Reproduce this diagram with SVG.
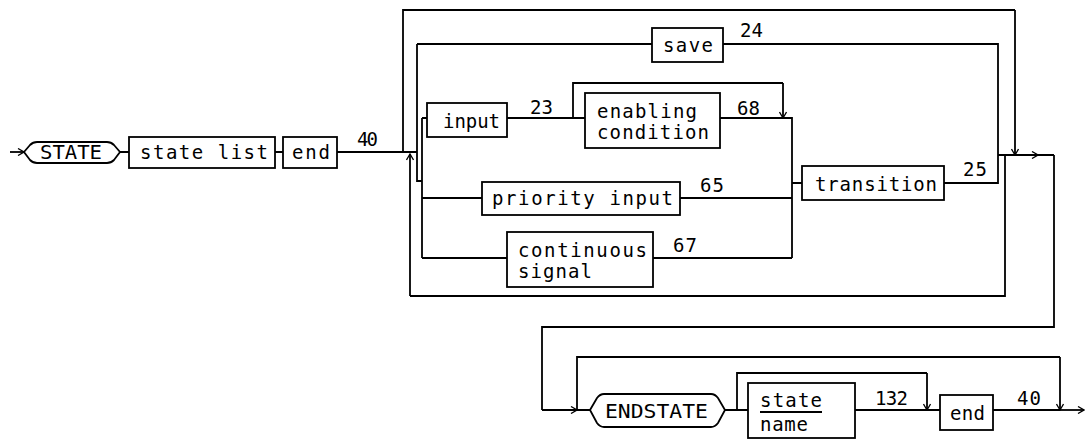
<svg xmlns="http://www.w3.org/2000/svg" width="1087" height="442" viewBox="0 0 1087 442">
<defs>
<marker id="ah" viewBox="0 0 8 8" refX="7" refY="4" markerWidth="8" markerHeight="8" markerUnits="userSpaceOnUse" orient="auto">
<path d="M1,0.5 L7,4 L1,7.5" fill="none" stroke="#000" stroke-width="1.3"/>
</marker>
<style>
.b{fill:#fff;stroke:#000;stroke-width:1.8}
.l{fill:none;stroke:#000;stroke-width:1.8}
.a{fill:none;stroke:#000;stroke-width:1.8;marker-end:url(#ah)}
text{font-family:"DejaVu Sans Mono","Liberation Mono",monospace;font-size:19px;fill:#000}
.n{font-size:19px}
</style>
</defs>
<rect width="1087" height="442" fill="#fff"/>
<g id="connectors">
<path class="a" d="M10,152 H24"/>
<path class="l" d="M120,152 H129 M275,152 H283 M337,152 H417"/>
<path class="l" d="M403,152 V10 H1015"/>
<path class="a" d="M1015,10 V155"/>
<path class="l" d="M417,44 V181 H422 M417,44 H652 M723,44 H998 V183 H944"/>
<path class="l" d="M998,155 H1054"/>
<path class="a" d="M998,155 H1038"/>
<path class="l" d="M1005,155 V296 H410"/>
<path class="a" d="M410,296 V154"/>
<path class="l" d="M422,118 V258 M422,118 H427 M507,118 H585 M720,118 H792 V258 M792,183 H802"/>
<path class="l" d="M573,118 V83 H783"/>
<path class="a" d="M783,83 V118"/>
<path class="l" d="M422,198 H482 M680,198 H792 M422,258 H507 M653,258 H792"/>
<path class="l" d="M1054,155 V327 H542 V410"/>
<path class="a" d="M542,410 H577"/>
<path class="l" d="M577,410 H590 M725,410 H748 M855,410 H940 M993,410 H1060"/>
<path class="a" d="M1060,410 H1084"/>
<path class="l" d="M577,410 V357 H1060"/>
<path class="a" d="M1060,357 V410"/>
<path class="l" d="M737,410 V373 H927"/>
<path class="a" d="M927,373 V410"/>
</g>
<g id="state"><path class="b" d="M24,152 L30,145 Q33,142 37,142 L107,142 Q111,142 114,145 L120,152 L114,160 Q111,163 107,163 L37,163 Q33,163 30,160 Z"/><text x="40" y="159" textLength="62" lengthAdjust="spacingAndGlyphs">STATE</text></g>
<g id="statelist"><rect class="b" x="129" y="137" width="146" height="31"/><text x="140" y="159" textLength="128" lengthAdjust="spacing">state list</text></g>
<g id="end1"><rect class="b" x="283" y="137" width="54" height="31"/><text x="292" y="159" textLength="38" lengthAdjust="spacing">end</text></g>
<text class="n" x="357" y="146" textLength="21">40</text>
<g id="save"><rect class="b" x="652" y="28" width="71" height="34"/><text x="663" y="52" textLength="50" lengthAdjust="spacing">save</text></g>
<text class="n" x="740" y="37" textLength="23">24</text>
<g id="input"><rect class="b" x="427" y="103" width="80" height="34"/><text x="443" y="128" textLength="57" lengthAdjust="spacing">input</text></g>
<text class="n" x="530" y="114" textLength="23">23</text>
<g id="enabling"><rect class="b" x="585" y="93" width="135" height="55"/><text x="597" y="118" textLength="100" lengthAdjust="spacing">enabling</text><text x="597" y="139" textLength="112" lengthAdjust="spacing">condition</text></g>
<text class="n" x="737" y="115" textLength="23">68</text>
<g id="priority"><rect class="b" x="482" y="182" width="198" height="33"/><text x="492" y="205" textLength="181" lengthAdjust="spacing">priority input</text></g>
<text class="n" x="700" y="192" textLength="24">65</text>
<g id="continuous"><rect class="b" x="507" y="232" width="146" height="55"/><text x="518" y="257" textLength="129" lengthAdjust="spacing">continuous</text><text x="518" y="278" textLength="74" lengthAdjust="spacing">signal</text></g>
<text class="n" x="673" y="252" textLength="24">67</text>
<g id="transition"><rect class="b" x="802" y="166" width="142" height="34"/><text x="815" y="191" textLength="122" lengthAdjust="spacing">transition</text></g>
<text class="n" x="963" y="176" textLength="24">25</text>
<g id="endstate"><path class="b" d="M590,410 L597,398 Q600,394 604,394 L711,394 Q715,394 718,398 L725,410 L718,423 Q715,427 711,427 L604,427 Q600,427 597,423 Z"/><text x="605" y="418" textLength="103" lengthAdjust="spacingAndGlyphs">ENDSTATE</text></g>
<g id="statename"><rect class="b" x="748" y="383" width="107" height="55"/><text x="760" y="407" textLength="62" lengthAdjust="spacing">state</text><path class="l" d="M760,412 H822" stroke-width="1.5"/><text x="760" y="431" textLength="48" lengthAdjust="spacing">name</text></g>
<text class="n" x="875" y="405" textLength="33">132</text>
<g id="end2"><rect class="b" x="940" y="395" width="53" height="35"/><text x="950" y="420" textLength="35" lengthAdjust="spacing">end</text></g>
<text class="n" x="1017" y="405" textLength="24">40</text>
</svg>
